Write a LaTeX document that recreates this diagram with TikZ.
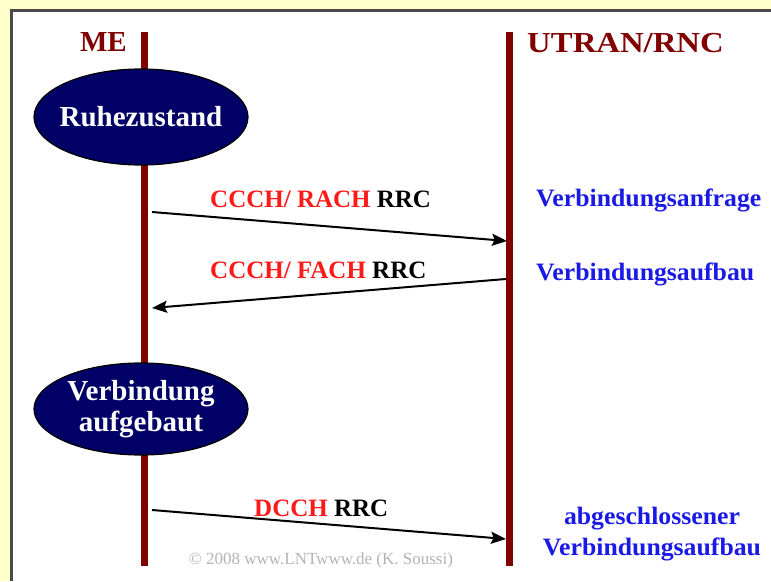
\documentclass[tikz,border=0pt]{standalone}
\usepackage{fontspec}
\setmainfont{Liberation Serif}
\usetikzlibrary{arrows.meta,shapes.geometric}
\definecolor{lifered}{HTML}{800000}
\definecolor{statenavy}{HTML}{000066}
\definecolor{chanred}{HTML}{FF1A1A}
\definecolor{msgblue}{HTML}{1A1AE6}
\definecolor{paper}{HTML}{FFFFCC}
\definecolor{framegray}{HTML}{4A4A4A}
\definecolor{notegray}{HTML}{B4B4B4}
% a line of text that does not widen its ellipse
\newcommand{\flatline}[1]{\makebox[0pt]{#1}}

\begin{document}
\begin{tikzpicture}[x=1pt,y=-1pt,
  lifeline/.style={draw=lifered,line width=7pt},
  state/.style={ellipse,draw=black,line width=1.2pt,fill=statenavy,text=white,
    font=\fontsize{29}{31}\selectfont\bfseries,inner sep=0pt,
    minimum width=214pt,minimum height=96pt,align=center},
  entity/.style={text=lifered,font=\fontsize{29}{32}\selectfont\bfseries,inner sep=0pt},
  msg/.style={draw=black,line width=2pt,-{Stealth[length=15pt,width=12pt,inset=2.5pt]}},
  chan/.style={inner sep=0pt,font=\fontsize{25}{28}\selectfont\bfseries},
  note/.style={inner sep=0pt,text=msgblue,xscale=1.03,font=\fontsize{25}{31}\selectfont\bfseries},
]
\useasboundingbox (0,0) rectangle (771,581);

% page background and frame
\fill[paper] (0,0) rectangle (771,581);
\fill[white] (11,10) rectangle (771,581);
\draw[framegray,line width=3pt] (11,581) -- (11,10) -- (771,10);

% lifelines
\coordinate (meTop) at (144,32);
\coordinate (meBot) at (144,566);
\coordinate (rncTop) at (509,32);
\coordinate (rncBot) at (509,566);
\draw[lifeline] (meTop) -- (meBot);
\draw[lifeline] (rncTop) -- (rncBot);

% entity labels
\node[entity,anchor=base east] (meLabel) at (127,51) {ME};
\node[entity,anchor=base west,xscale=1.13] (rncLabel) at (527,52) {UTRAN/RNC};

% states of the mobile
\node[state] (idle) at (141,117) {\flatline{Ruhezustand}};
\node[state,minimum height=92pt] (connected) at (141,409)
  {\flatline{Verbindung}\\\flatline{aufgebaut}};

% message arrows
\coordinate (req0) at (152,212);
\coordinate (req1) at (507,241);
\coordinate (setup0) at (506,279);
\coordinate (setup1) at (152,308);
\coordinate (done0) at (152,510);
\coordinate (done1) at (506,539);
\draw[msg] (req0) -- (req1);
\draw[msg] (setup0) -- (setup1);
\draw[msg] (done0) -- (done1);

% channel labels
\node[chan,anchor=base west] (reqChan) at (210,207) {\textcolor{chanred}{CCCH/ RACH} RRC};
\node[chan,anchor=base west] (setupChan) at (210,278) {\textcolor{chanred}{CCCH/ FACH} RRC};
\node[chan,anchor=base west] (doneChan) at (254,516) {\textcolor{chanred}{DCCH} RRC};

% message meanings
\node[note,anchor=base west] (reqNote) at (536,206) {Verbindungsanfrage};
\node[note,anchor=base west] (setupNote) at (536,280) {Verbindungsaufbau};
\node[note,align=center] (doneNote) at (652,534) {abgeschlossener\\Verbindungsaufbau};

% copyright
\node[text=notegray,font=\fontsize{17}{19}\selectfont] (copy) at (321,560)
  {\textcopyright{} 2008 www.LNTwww.de (K. Soussi)};
\end{tikzpicture}
\end{document}
